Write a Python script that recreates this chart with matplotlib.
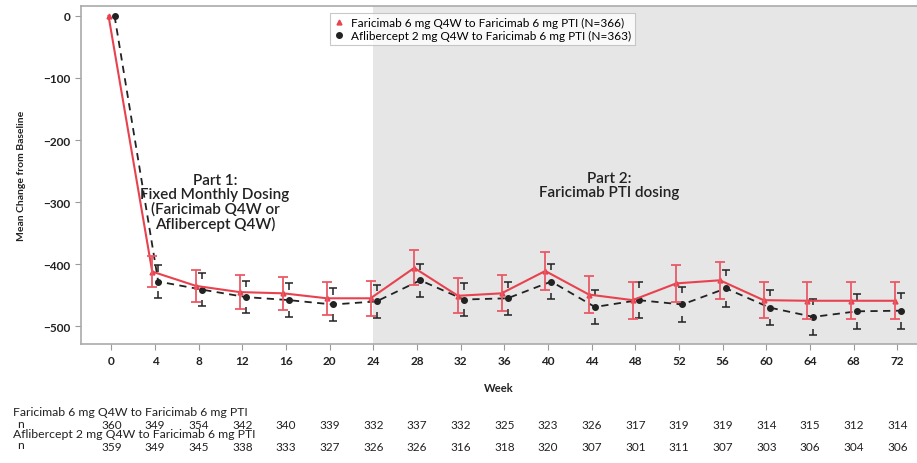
import numpy as np
import matplotlib.pyplot as plt

plt.rcParams['font.family'] = ['Lato', 'DejaVu Sans']

# --------------------------------------------------------------
# Data
# --------------------------------------------------------------

weeks = [0, 4, 8, 12, 16, 20, 24, 28, 32, 36, 40, 44, 48, 52, 56, 60, 64, 68, 72]

fari_mean = [0, -412, -435, -445, -447, -455, -455, -406, -451, -447, -411, -449, -458,
             -431, -426, -458, -459, -459, -459]
fari_ci = [0, 25, 26, 27, 27, 27, 28, 28, 28, 29, 30, 30, 30, 30, 30, 29, 30, 30, 30]

afli_mean = [0, -428, -441, -453, -458, -465, -460, -426, -457, -455, -428, -469, -458,
             -465, -439, -470, -485, -476, -475]
afli_ci = [0, 26, 27, 26, 27, 26, 27, 27, 26, 27, 28, 28, 29, 28, 30, 28, 29, 28, 29]

fari_n = [360, 349, 354, 342, 340, 339, 332, 337, 332, 325, 323, 326, 317, 319, 319, 314, 315, 312, 314]
afli_n = [359, 349, 345, 338, 333, 327, 326, 326, 316, 318, 320, 307, 301, 311, 307, 303, 306, 304, 306]

fari_label = "Faricimab 6 mg Q4W to Faricimab 6 mg PTI (N=366)"
afli_label = "Aflibercept 2 mg Q4W to Faricimab 6 mg PTI (N=363)"
fari_row = "Faricimab 6 mg Q4W to Faricimab 6 mg PTI"
afli_row = "Aflibercept 2 mg Q4W to Faricimab 6 mg PTI"

# --------------------------------------------------------------
# Plot
# --------------------------------------------------------------

red = '#e8424f'
red_err = '#ea5a66'
dark = '#222222'

fig = plt.figure(figsize=(9.17, 4.64), dpi=100)
ax = fig.add_axes([0.088, 0.256, 0.912, 0.729])

w = np.array(weeks, dtype=float)
xr = w - 0.25
xb = w + 0.3
am = np.array(afli_mean, dtype=float)
ac = np.array(afli_ci, dtype=float)

# Part 2 shading
ax.axvspan(24, 80, color='#e6e6e6', zorder=0, lw=0)

# aflibercept: dashed line, cap-only error bars with short stems
afli_line, = ax.plot(xb, am, color=dark, ls=(0, (4, 3)), lw=1.3, marker='o', ms=4,
                     label=afli_label, zorder=3)
ax.errorbar(xb[1:], am[1:], yerr=ac[1:], fmt='none', ecolor=dark, elinewidth=0,
            capsize=3, capthick=1.1, zorder=3)
stub = 10
ax.vlines(xb[1:], am[1:] + ac[1:] - stub, am[1:] + ac[1:], color=dark, lw=1.1, zorder=3)
ax.vlines(xb[1:], am[1:] - ac[1:], am[1:] - ac[1:] + stub, color=dark, lw=1.1, zorder=3)

# faricimab: solid line with full error bars
fari_line, = ax.plot(xr, fari_mean, color=red, lw=1.5, marker='^', ms=3.5,
                     label=fari_label, zorder=4)
ax.errorbar(xr[1:], fari_mean[1:], yerr=fari_ci[1:], fmt='none', ecolor=red_err,
            elinewidth=1.3, capsize=3.5, capthick=1.3, zorder=4)

ax.set_xlim(-2.8, 73.8)
ax.set_ylim(-529, 16)
ax.set_xticks(weeks)
ax.set_yticks([0, -100, -200, -300, -400, -500])
ax.tick_params(axis='both', colors='#9a9a9a', labelcolor=dark, labelsize=8.5, length=4)
for lab in ax.get_xticklabels() + ax.get_yticklabels():
    lab.set_fontweight('bold')

for s in ['left', 'bottom', 'top']:
    ax.spines[s].set_color('#aaaaaa')
    ax.spines[s].set_linewidth(1.2)
ax.spines['right'].set_visible(False)

ax.set_ylabel("Mean Change from Baseline", fontsize=7.5, fontweight='bold', color=dark, labelpad=12)
ax.set_xlabel("Week", fontsize=8, fontweight='bold', color=dark, labelpad=12)

ax.text(9.5, -300, "Part 1:\nFixed Monthly Dosing\n(Faricimab Q4W or\nAflibercept Q4W)",
        ha='center', va='center', fontsize=11, fontweight='semibold', color=dark,
        linespacing=1.0)
ax.text(45.6, -272, "Part 2:\nFaricimab PTI dosing", ha='center', va='center',
        fontsize=11, fontweight='semibold', color=dark, linespacing=1.0)

leg = ax.legend(handles=[fari_line, afli_line], loc='upper left',
                bbox_to_anchor=(0.298, 0.98), fontsize=8.5,
                frameon=True, fancybox=False, borderpad=0.35, handlelength=0.8,
                handletextpad=0.6, labelspacing=0.15, borderaxespad=0)
leg.get_frame().set_edgecolor('#bbbbbb')
leg.get_frame().set_facecolor('white')
leg.get_frame().set_linewidth(0.8)
for h in leg.legend_handles:
    h.set_linestyle('none')

# number-at-risk table under the axis
tr = ax.get_xaxis_transform()
fig.text(13 / 917, 1 - 413 / 464, fari_row, fontsize=8.8, color=dark, va='center')
fig.text(17 / 917, 1 - 424 / 464, "n", fontsize=8.8, color=dark, va='center')
fig.text(13 / 917, 1 - 435 / 464, afli_row, fontsize=8.8, color=dark, va='center')
fig.text(17 / 917, 1 - 446 / 464, "n", fontsize=8.8, color=dark, va='center')
for x, a, b in zip(weeks, fari_n, afli_n):
    ax.text(x, -0.236, str(a), transform=tr, ha='center', va='center', fontsize=8.5,
            color=dark, clip_on=False)
    ax.text(x, -0.301, str(b), transform=tr, ha='center', va='center', fontsize=8.5,
            color=dark, clip_on=False)

fig.savefig('out.png', dpi=100)
